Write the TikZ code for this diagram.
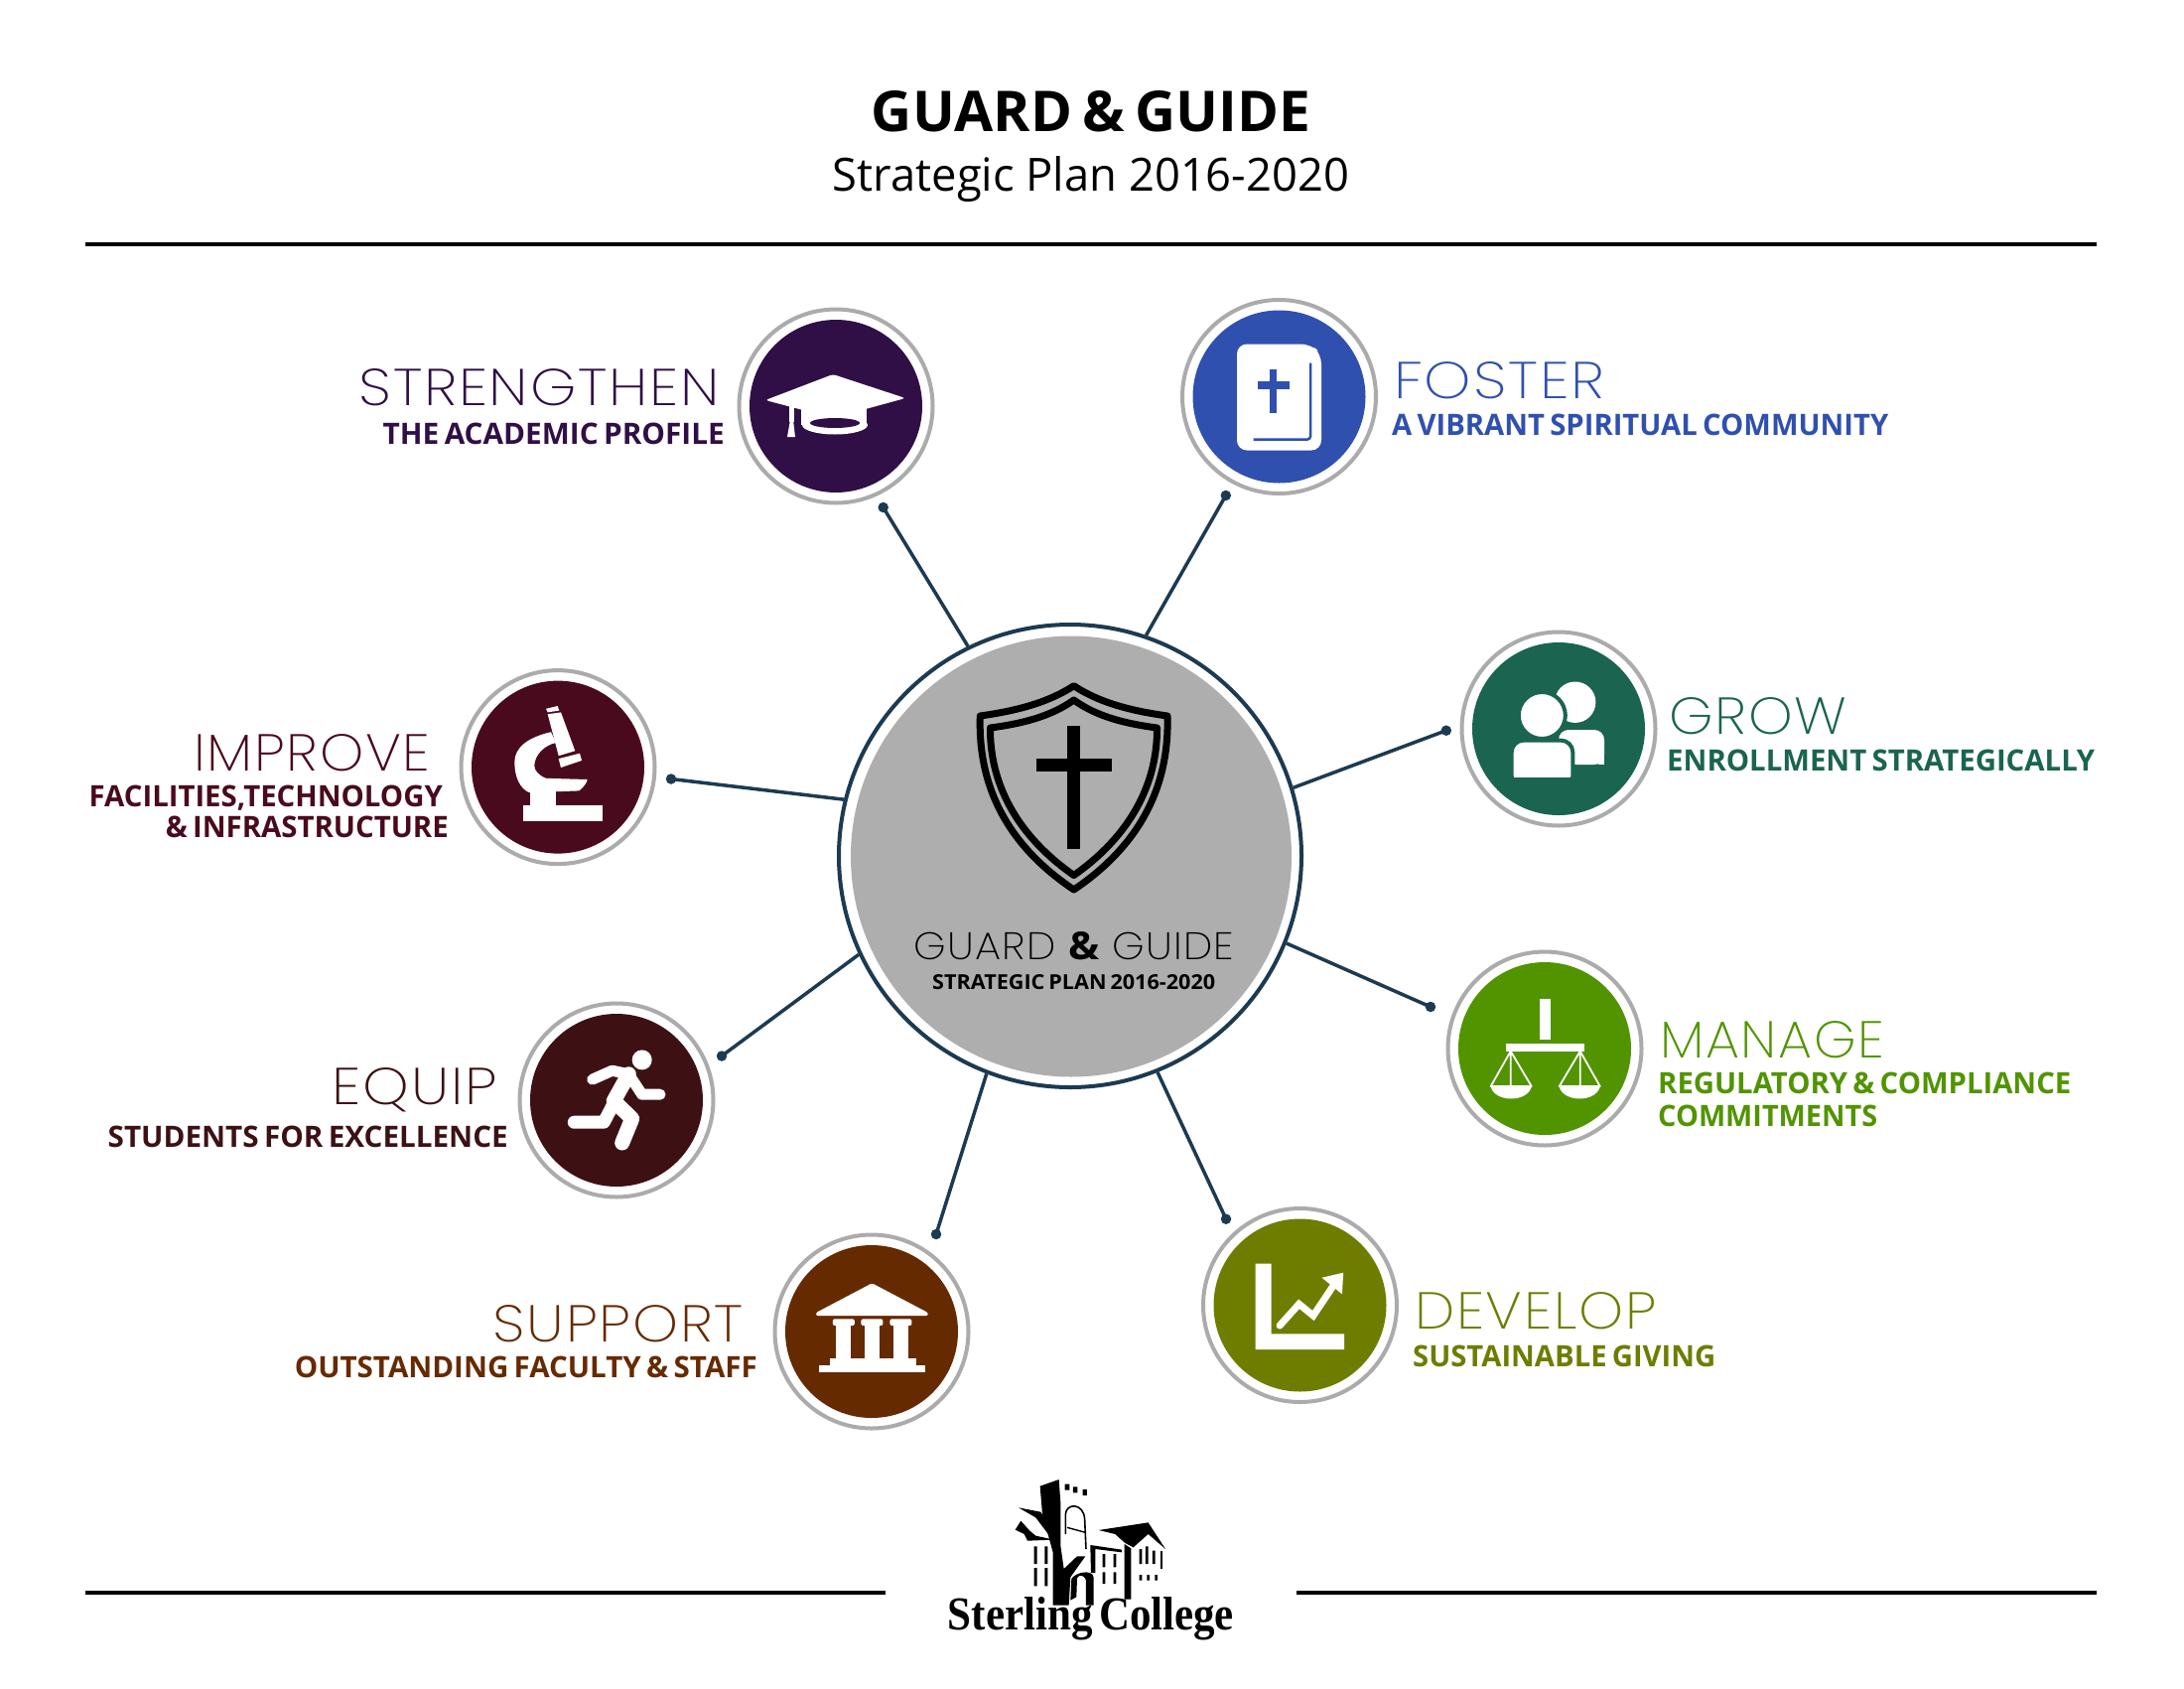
\documentclass[tikz,border=0pt]{standalone}
\usepackage{graphicx}
\usepackage{fontspec}
\setmainfont{Open Sans}
\newfontfamily\headfont[LetterSpace=3]{Poppins ExtraLight}
\newfontfamily\subfont[WordSpace=0.7]{Open Sans}
\newfontfamily\logofont[WordSpace=0.6]{Liberation Serif}
\definecolor{cstr}{HTML}{2F0F45}
\definecolor{cfos}{HTML}{2F50AE}
\definecolor{cgro}{HTML}{1A6450}
\definecolor{cman}{HTML}{519400}
\definecolor{cdev}{HTML}{6E7D00}
\definecolor{csup}{HTML}{662A00}
\definecolor{cequ}{HTML}{3D1114}
\definecolor{cimp}{HTML}{4A0A1D}
\definecolor{navy}{HTML}{1C3A52}
\definecolor{ringgray}{HTML}{ABABAB}
\definecolor{hubgray}{HTML}{AEAEAE}
% fit a one-line text to a given width and cap height (both in px of the picture)
\newcommand{\fitto}[3]{\resizebox{#1pt}{#2pt}{#3}}
\newcommand{\headtext}[2]{\fitto{#1}{37}{\headfont #2}}
\newcommand{\subtext}[2]{\fitto{#1}{21.5}{\subfont\bfseries #2}}
\tikzset{
  ring/.style={circle,minimum size=195pt,inner sep=0pt,draw=ringgray,line width=4pt,fill=white},
  disc/.style={circle,minimum size=174pt,inner sep=0pt,fill=#1},
  label/.style={inner sep=0pt,text=#1},
  hubring/.style={circle,minimum size=466pt,inner sep=0pt,draw=navy,line width=4pt,fill=white},
  hubdisc/.style={circle,minimum size=444pt,inner sep=0pt,fill=hubgray},
  tip/.style={circle,minimum size=10.5pt,inner sep=0pt,fill=navy},
  link/.style={draw=navy,line width=3.5pt},
  rulebar/.style={draw=black,line width=4pt},
  shieldline/.style={draw=black,line width=7pt,line join=round},
}
\begin{document}
\begin{tikzpicture}[x=1pt,y=-1pt]
\useasboundingbox (0,0) rectangle (2200,1700);
\fill[white] (0,0) rectangle (2200,1700);

% title and rules
\node[inner sep=0pt,anchor=base] (title) at (1099,132.5) {\fitto{442}{41}{\subfont\bfseries GUARD \& GUIDE}};
\node[inner sep=0pt,anchor=base] (subtitle) at (1099,192.5) {\fitto{520}{35}{Strategic Plan 2016-2020}};
\coordinate (ruleTL) at (85.5,246); \coordinate (ruleTR) at (2112,246);
\coordinate (ruleBL1) at (85.5,1603.5); \coordinate (ruleBL2) at (892,1603.5);
\coordinate (ruleBR1) at (1306,1603.5); \coordinate (ruleBR2) at (2112,1603.5);
\draw[rulebar] (ruleTL) -- (ruleTR);
\draw[rulebar] (ruleBL1) -- (ruleBL2);
\draw[rulebar] (ruleBR1) -- (ruleBR2);

% hub
\node[hubring] (hub) at (1078,862) {};
\node[hubdisc] (hubfill) at (1079,862.5) {};

% tips and connectors
\node[tip] (tipS) at (889.7,511) {};
\node[tip] (tipF) at (1234.8,499) {};
\node[tip] (tipG) at (1456.8,735.7) {};
\node[tip] (tipM) at (1441,1014) {};
\node[tip] (tipD) at (1235,1227.7) {};
\node[tip] (tipU) at (943,1243) {};
\node[tip] (tipE) at (727,1063.5) {};
\node[tip] (tipI) at (676,784.5) {};
\draw[link] (hub.116.6) -- (tipS.center);
\draw[link] (hub.71.9) -- (tipF.center);
\draw[link] (hub.17) -- (tipG.center);
\draw[link] (hub.-22.3) -- (tipM.center);
\draw[link] (hub.-68.7) -- (tipD.center);
\draw[link] (hub.249) -- (tipU.center);
\draw[link] (hub.205.6) -- (tipE.center);
\draw[link] (hub.166.2) -- (tipI.center);

% shield
\path[shieldline] (1081.7,690.7) .. controls (1108,708) and (1140,716) .. (1176,721)
  .. controls (1178,790) and (1150,850) .. (1081.7,896)
  .. controls (1013,850) and (985,790) .. (987.3,721)
  .. controls (1023,716) and (1055,708) .. cycle;
\path[shieldline] (1081.7,705) .. controls (1105,722) and (1135,729) .. (1165.5,733)
  .. controls (1166,790) and (1138,842) .. (1081.7,881.5)
  .. controls (1025,842) and (997,790) .. (997.5,733)
  .. controls (1028,729) and (1058,722) .. cycle;
\fill[black] (1075,731) rectangle (1088.3,855);
\fill[black] (1044,764) rectangle (1120,776.7);
\node[inner sep=0pt,anchor=base] (hubtitle) at (1081.7,966.7) {\fitto{323}{28}{\headfont GUARD {\subfont\bfseries \&} GUIDE}};
\node[inner sep=0pt,anchor=base] (hubsub) at (1081.7,996.7) {\fitto{285}{15}{\subfont\bfseries STRATEGIC PLAN 2016-2020}};

% badges
\node[ring] (nS) at (842,409) {};   \node[disc=cstr] (dS) at (842,409) {};
\node[ring] (nF) at (1288.5,399.5) {}; \node[disc=cfos] (dF) at (1288.5,399.5) {};
\node[ring] (nG) at (1570,734) {};  \node[disc=cgro] (dG) at (1570,734) {};
\node[ring] (nM) at (1556,1056) {}; \node[disc=cman] (dM) at (1556,1056) {};
\node[ring] (nD) at (1309.5,1314.5) {}; \node[disc=cdev] (dD) at (1309.5,1314.5) {};
\node[ring] (nU) at (878,1341) {};  \node[disc=csup] (dU) at (878,1341) {};
\node[ring] (nE) at (621,1108) {};  \node[disc=cequ] (dE) at (621,1108) {};
\node[ring] (nI) at (562,772.6) {}; \node[disc=cimp] (dI) at (562,772.6) {};

% graduation cap
\begin{scope}[shift={(842,409)}]
\fill[white,rounded corners=3pt] (-3,-32) -- (70,-8) -- (-3,12) -- (-71,-6) -- cycle;
\fill[white] (-35,-4) -- (31,-4) -- (31,19) -- (-35,19) -- cycle;
\fill[white] (-1,19) ellipse[x radius=33,y radius=9.5];
\fill[cstr] (-1,17) ellipse[x radius=25,y radius=5];
\fill[white] (-47,0) rectangle (-42,16);
\fill[white] (-46,14) -- (-43,14) -- (-41,31) -- (-49,31) -- cycle;
\end{scope}

% book
\begin{scope}[shift={(1288.5,399.5)}]
\fill[white,rounded corners=10pt] (-42.5,-53) -- (32,-53) -- (42.5,-43) -- (42.5,54) -- (-42.5,54) -- cycle;
\draw[cfos,line width=2.5pt,rounded corners=3pt] (31.5,-34) -- (31.5,43) -- (-26,43);
\fill[cfos] (-9.7,-28) rectangle (-2.7,16.5);
\fill[cfos] (-22,-15.5) rectangle (10,-8);
\end{scope}

% people
\begin{scope}[shift={(1570,734)}]
\fill[white] (16.7,-26.8) circle[radius=20.7];
\fill[white,rounded corners=10pt] (0,1) -- (46,1) -- (46,36) -- (0,36) -- cycle;
\fill[white] (40,25) rectangle (46,36);
\draw[cgro,line width=4pt,fill=white] (-16.7,-13.5) circle[radius=23.5];
\draw[cgro,line width=4pt,fill=white,rounded corners=12pt] (-47.3,49.3) -- (-47.3,11.6) -- (14.3,11.6) -- (14.3,60) -- (-47.3,60) -- cycle;
\fill[cgro] (-50,49.3) rectangle (18,62);
\fill[cgro] (14.3,36) rectangle (18,62);
\end{scope}

% scales
\begin{scope}[shift={(1556,1056)}]
\fill[white] (-5.3,-50) rectangle (6,-9);
\fill[white] (-39.3,-5.3) rectangle (40,2.6);
\draw[white,line width=1.8pt,line join=round] (-34.3,2.6) -- (-54.3,38) -- (-13.3,38) -- cycle (-34.3,2.6) -- (-34.3,38);
\fill[white] (-54.3,37) arc[start angle=180,end angle=360,x radius=20.5,y radius=-13.5] -- cycle;
\draw[white,line width=1.8pt,line join=round] (35.7,2.6) -- (14.7,38) -- (55.7,38) -- cycle (35.7,2.6) -- (35.7,38);
\fill[white] (14.7,37) arc[start angle=180,end angle=360,x radius=20.5,y radius=-13.5] -- cycle;
\end{scope}

% chart
\begin{scope}[shift={(1309.5,1314.5)}]
\fill[white] (-45,-41.8) -- (-29,-41.8) -- (-29,28.8) -- (44.6,28.8) -- (44.6,44.5) -- (-45,44.5) -- cycle;
\draw[white,line width=7pt,line cap=round,line join=miter] (-20.4,20.5) -- (-1,-1.2) -- (13.4,10.5) -- (33.8,-20);
\fill[white] (22,-27.8) -- (43.7,-32.8) -- (42.4,-11.2) -- cycle;
\end{scope}

% building
\begin{scope}[shift={(878,1341)}]
\fill[white,rounded corners=1.5pt] (0.4,-48.7) -- (56.8,-19) -- (56.8,-16) -- (-56,-16) -- (-56,-19) -- cycle;
\fill[white] (-35.7,-7.7) rectangle (-20.7,28);
\fill[white] (-7.1,-7.7) rectangle (7.9,28);
\fill[white] (21.9,-7.7) rectangle (36.9,28);
\fill[white,rounded corners=2pt] (-39.2,-12.7) rectangle (-17.2,-6);
\fill[white,rounded corners=2pt] (-10.6,-12.7) rectangle (11.4,-6);
\fill[white,rounded corners=2pt] (18.4,-12.7) rectangle (40.4,-6);
\fill[white] (-42,27.3) rectangle (44.6,34);
\fill[white] (-53,34) rectangle (54,41.3);
\end{scope}

% runner
\begin{scope}[shift={(621,1108)}]
\fill[white] (25.7,-40.6) circle[radius=10];
\draw[white,line width=11pt,line cap=round,line join=round] (-24.3,-20.9) -- (-4.3,-29.8) -- (12.3,-26.2) -- (25.7,-5.8) -- (44,-5.8);
\draw[white,line width=15pt,line cap=round,line join=round] (12.3,-26.2) -- (-2.7,0.7) -- (15.7,18.6) -- (5.7,43);
\draw[white,line width=13pt,line cap=round,line join=round] (-2.7,3) -- (-12.7,22.2) -- (-42.7,22.2);
\end{scope}

% microscope
\begin{scope}[shift={(562,772.6)}]
\fill[white] (-34.7,38.2) rectangle (44.7,54.3);
\fill[white] (-28,24) rectangle (-2,38.2);
\fill[white] (-7,-35.4) .. controls (-30,-30) and (-43.7,-20) .. (-43.7,-5)
  .. controls (-43.7,10) and (-38,22) .. (-28.7,25.6) -- (21.3,23.8) .. controls (26,20) and (29,16) .. (29.7,12.4)
  -- (-12,11.2) .. controls (-20,8) and (-23.7,3) .. (-23.7,-1.3) .. controls (-23.7,-12) and (-14,-22) .. (-2,-24.6) -- cycle;
\fill[white] (-10.3,-53.4) -- (3,-55.2) -- (17.3,-16.4) -- (0.7,-11.4) -- cycle;
\fill[white] (-12,-58.8) -- (-0.3,-61.6) -- (1.3,-57) -- (-10.3,-55.2) -- cycle;
\fill[white] (0.7,-8.5) -- (22,-13.9) -- (24,-6.7) -- (3,0.4) -- cycle;
\end{scope}

% labels
\node[label=cstr,anchor=base east] (lS1) at (725,408) {\headtext{363}{STRENGTHEN}};
\node[label=cstr,anchor=base east] (lS2) at (730,447.5) {\subtext{344}{THE ACADEMIC PROFILE}};
\node[label=cfos,anchor=base west] (lF1) at (1404,401) {\headtext{212}{FOSTER}};
\node[label=cfos,anchor=base west] (lF2) at (1402,438) {\subtext{500}{A VIBRANT SPIRITUAL COMMUNITY}};
\node[label=cgro,anchor=base west] (lG1) at (1681,739) {\headtext{179}{GROW}};
\node[label=cgro,anchor=base west] (lG2) at (1679,776) {\subtext{431}{ENROLLMENT STRATEGICALLY}};
\node[label=cman,anchor=base west] (lM1) at (1672,1065) {\headtext{226}{MANAGE}};
\node[label=cman,anchor=base west] (lM2) at (1670,1101) {\subtext{416}{REGULATORY \& COMPLIANCE}};
\node[label=cman,anchor=base west] (lM3) at (1670,1134) {\subtext{221}{COMMITMENTS}};
\node[label=cdev,anchor=base west] (lD1) at (1425,1338) {\headtext{243}{DEVELOP}};
\node[label=cdev,anchor=base west] (lD2) at (1423,1376) {\subtext{305}{SUSTAINABLE GIVING}};
\node[label=csup,anchor=base east] (lU1) at (749,1351) {\headtext{252}{SUPPORT}};
\node[label=csup,anchor=base east] (lU2) at (763,1387.5) {\subtext{466}{OUTSTANDING FACULTY \& STAFF}};
\node[label=cequ,anchor=base east] (lE1) at (501,1112.6) {\headtext{166}{EQUIP}};
\node[label=cequ,anchor=base east] (lE2) at (512,1155) {\subtext{403}{STUDENTS FOR EXCELLENCE}};
\node[label=cimp,anchor=base east] (lI1) at (433.5,776) {\headtext{238}{IMPROVE}};
\node[label=cimp,anchor=base east] (lI2) at (446,812) {\subtext{356}{FACILITIES,TECHNOLOGY}};
\node[label=cimp,anchor=base east] (lI3) at (452,843) {\subtext{285}{\& INFRASTRUCTURE}};

% Sterling College logo
\begin{scope}[shift={(900,1480)},x=0.3333pt,y=-0.3333pt]
\fill[black] (443,50) -- (500,30) -- (505,100) -- (505,230) -- (515,300) -- (555,262) -- (580,262) -- (535,325) -- (530,410) -- (482,410) -- (482,250) -- (450,135) -- cycle;
\fill[black] (518,44) rectangle (532,62) (543,52) rectangle (556,70) (572,60) rectangle (585,78);
\draw[black,line width=1.6pt] (520,195) -- (520,135) .. controls (522,100) and (575,100) .. (578,150) -- (582,240);
\draw[black,line width=1.4pt] (525,175) -- (580,190);
\fill[black] (378,115) -- (445,128) -- (490,205) -- (470,198) -- (430,145) -- cycle;
\fill[black] (385,155) -- (368,182) -- (395,195) -- (405,215) -- (485,212) -- (430,200) -- (412,185) -- cycle;
\fill[black] (425,232) rectangle (434,285) (457,232) rectangle (466,285);
\fill[black] (425,297) rectangle (434,352) (457,297) rectangle (466,352);
\fill[black] (538,330) .. controls (550,310) and (600,300) .. (605,325) -- (605,410) -- (582,410) -- (582,335) .. controls (575,315) and (560,318) .. (555,328) -- (553,385) -- (535,395) -- cycle;
\fill[black] (620,183) -- (770,160) -- (822,240) -- (770,195) -- (725,235) -- (700,222) -- (670,195) -- cycle;
\fill[black] (698,225) -- (718,238) -- (718,392) -- (698,392) -- cycle;
\fill[black] (595,228) -- (690,242) -- (690,250) -- (610,240) -- (610,312) -- (597,312) -- cycle;
\fill[black] (632,255) rectangle (640,295) (665,255) rectangle (673,295);
\fill[black] (632,310) rectangle (640,345) (665,310) rectangle (673,345);
\fill[black] (743,240) rectangle (751,285) (762,232) rectangle (770,285) (783,245) rectangle (791,285);
\fill[black] (743,318) rectangle (751,335) (766,318) rectangle (774,335) (790,318) rectangle (798,335);
\fill[black] (806,245) rectangle (813,300);
\end{scope}
\node[inner sep=0pt,anchor=base] (logo) at (1099,1641) {\fitto{288}{33}{\logofont\bfseries Sterling College}};
\end{tikzpicture}
\end{document}
